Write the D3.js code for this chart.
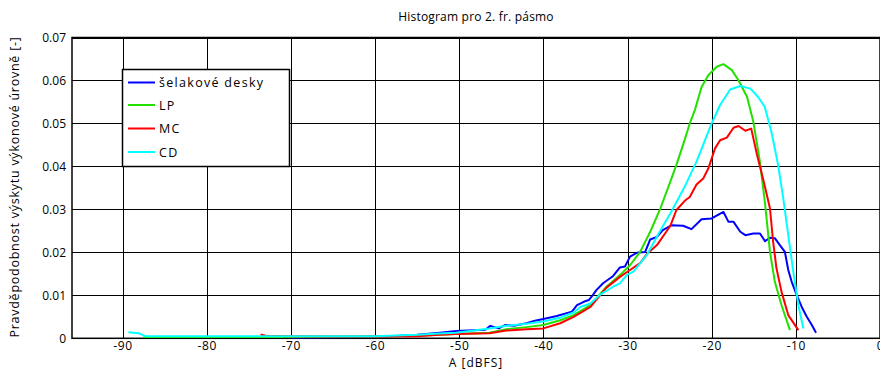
<!DOCTYPE html>
<html><head><meta charset="utf-8">
<script src="https://cdn.jsdelivr.net/npm/d3@7"></script>
<style>body{margin:0;background:#fff}svg{display:block}text{font-family:"Open Sans","DejaVu Sans",sans-serif;}</style>
</head><body><svg id="c" width="880" height="371"></svg>
<script>
const titleText = "Histogram pro 2. fr. pásmo";
const xLabel = "A [dBFS]";
const yLabel = "Pravděpodobnost výskytu výkonové úrovně [-]";
const xTicks = [-90,-80,-70,-60,-50,-40,-30,-20,-10,0];
const yTicks = [0,0.01,0.02,0.03,0.04,0.05,0.06,0.07];
const seriesNames = ["šelakové desky","LP","MC","CD"];
const seriesColors = ["#0000ff","#22e000","#ff0000","#00ffff"];

const shellacDb = [-70,-62,-58,-55,-52.3,-50.3,-48.3,-46.9,-46.3,-45.3,-44.5,-43.5,-42.0,-41.0,-40.0,-38.4,-36.6,-36.0,-35.2,-34.6,-34.1,-33.7,-32.9,-31.7,-30.9,-30.3,-29.7,-28.9,-27.9,-27.3,-26.5,-25.8,-24.8,-23.4,-22.4,-21.2,-20.0,-18.6,-18.0,-17.4,-16.6,-16.0,-15.05,-14.26,-13.66,-13.07,-12.5,-11.9,-11.3,-10.9,-10.5,-9.9,-9.3,-8.7,-8.1,-7.6];
const shellacVal = [0.0002,0.0003,0.0005,0.0008,0.0013,0.0017,0.0019,0.0020,0.0029,0.0023,0.0031,0.0029,0.0035,0.0041,0.0045,0.0052,0.0062,0.0077,0.0085,0.0089,0.0101,0.0112,0.0128,0.0145,0.0165,0.0167,0.0190,0.0199,0.0201,0.0230,0.0236,0.0252,0.0263,0.0262,0.0254,0.0277,0.0279,0.0294,0.0271,0.0271,0.0248,0.0240,0.0244,0.0244,0.0226,0.0234,0.0233,0.0217,0.0201,0.0159,0.0132,0.0101,0.0073,0.0050,0.0031,0.0013];

const lpDb = [-87.5,-80,-70,-60,-55,-50.4,-46.4,-44.4,-42,-40,-38,-36.4,-34.4,-32.5,-30.9,-29.7,-28.5,-27.3,-26.1,-25.0,-24.2,-23.4,-22.6,-22.0,-21.2,-20.4,-19.4,-18.6,-17.6,-16.8,-15.8,-15.05,-14.26,-13.66,-13.07,-12.5,-11.7,-10.7];
const lpVal = [0.0003,0.0003,0.0003,0.0004,0.0006,0.0010,0.0013,0.0021,0.0026,0.0031,0.0042,0.0054,0.0077,0.0120,0.0147,0.0170,0.0201,0.0248,0.0302,0.0360,0.0403,0.0450,0.0500,0.0531,0.0585,0.0612,0.0632,0.0638,0.0624,0.0600,0.0562,0.0504,0.0410,0.0314,0.0201,0.0132,0.0077,0.0019];

const mcDb = [-73.6,-73,-70,-65,-60,-55,-52.4,-50.4,-46.4,-44.4,-42,-40,-38,-36.4,-34.4,-32.5,-30.9,-29.7,-28.5,-27.7,-26.5,-25.5,-24.9,-24.2,-23.2,-22.6,-21.8,-21.0,-20.4,-19.6,-19.0,-18.2,-17.4,-16.8,-16.0,-15.3,-14.6,-13.8,-13.07,-12.7,-12.3,-11.7,-10.9,-9.7];
const mcVal = [0.0009,0.0006,0.0005,0.0004,0.0004,0.0005,0.0008,0.0010,0.0012,0.0018,0.0021,0.0023,0.0035,0.0050,0.0073,0.0118,0.0143,0.0159,0.0175,0.0196,0.0217,0.0245,0.0262,0.0298,0.0320,0.0329,0.0358,0.0372,0.0395,0.0442,0.0461,0.0467,0.0490,0.0494,0.0483,0.0488,0.0426,0.0364,0.0302,0.0225,0.0163,0.0108,0.0054,0.0019];

const cdDb = [-89.3,-88.1,-87.3,-85,-80,-75,-70,-65,-60,-55,-52.4,-50.4,-46.4,-44.4,-42,-40,-38,-36.4,-35.6,-34.4,-33.3,-31.7,-30.9,-30.1,-29.3,-27.7,-26.3,-24.9,-23.3,-21.8,-20.0,-19.0,-17.8,-16.6,-15.4,-14.5,-13.7,-12.9,-12.1,-11.5,-10.9,-10.3,-9.7,-9.1];
const cdVal = [0.0014,0.0012,0.0005,0.0005,0.0005,0.0005,0.0005,0.0005,0.0005,0.0008,0.0011,0.0013,0.0023,0.0029,0.0034,0.0039,0.0048,0.0060,0.0073,0.0081,0.0101,0.0120,0.0128,0.0147,0.0155,0.0194,0.0244,0.0291,0.0349,0.0411,0.0500,0.0543,0.0579,0.0587,0.0581,0.0562,0.0539,0.0480,0.0403,0.0326,0.0240,0.0155,0.0077,0.0023];

const series = [
  {name: seriesNames[0], color: seriesColors[0], x: shellacDb, y: shellacVal},
  {name: seriesNames[1], color: seriesColors[1], x: lpDb, y: lpVal},
  {name: seriesNames[2], color: seriesColors[2], x: mcDb, y: mcVal},
  {name: seriesNames[3], color: seriesColors[3], x: cdDb, y: cdVal}
];

const L = 72, R = 880, T = 37.5, B = 338.3;
const svg = d3.select("#c");
const x = d3.scaleLinear().domain([-96, 0]).range([L, R]);
const y = d3.scaleLinear().domain([0, 0.07]).range([B, T]);

// grid
const g = svg.append("g");
g.selectAll(".gx").data(xTicks).join("line")
  .attr("x1", d => Math.round(x(d)) + 0.5).attr("x2", d => Math.round(x(d)) + 0.5)
  .attr("y1", T).attr("y2", B).attr("stroke", "#000").attr("stroke-width", 1);
g.selectAll(".gy").data(yTicks).join("line")
  .attr("y1", d => Math.round(y(d)) + 0.5).attr("y2", d => Math.round(y(d)) + 0.5)
  .attr("x1", L).attr("x2", R).attr("stroke", "#000").attr("stroke-width", 1);

// axes
const xAxis = d3.axisBottom(x).tickValues(xTicks).tickSize(0).tickPadding(3).tickFormat(d => String(d));
const yAxis = d3.axisLeft(y).tickValues(yTicks).tickSize(0).tickPadding(6).tickFormat(d => d === 0 ? "0" : d3.format(".2f")(d));
const gx = svg.append("g").attr("transform", `translate(0,${B})`).call(xAxis);
const gy = svg.append("g").attr("transform", `translate(${L},0)`).call(yAxis);
[gx, gy].forEach(a => { a.select(".domain").remove(); a.selectAll("text").attr("font-size", 12).attr("fill", "#000").attr("font-family", "'Open Sans', sans-serif"); });
gx.selectAll("text").attr("letter-spacing", "0.6px");

// box
svg.append("rect").attr("x", L).attr("y", T).attr("width", R - L).attr("height", B - T)
  .attr("fill", "none").attr("stroke", "#000").attr("stroke-width", 1.5);

// lines
const line = d3.line().x(d => x(d[0])).y(d => y(d[1]));
svg.append("g").selectAll("path").data(series).join("path")
  .attr("d", s => line(s.x.map((v, i) => [v, s.y[i]])))
  .attr("fill", "none").attr("stroke", s => s.color).attr("stroke-width", 2)
  .attr("stroke-linejoin", "round");

// legend
const lg = svg.append("g");
lg.append("rect").attr("x", 122.5).attr("y", 69.5).attr("width", 167).attr("height", 97)
  .attr("fill", "#fff").attr("stroke", "#000").attr("stroke-width", 1.5);
const ly = [82.5, 105, 128.5, 152];
series.forEach((s, i) => {
  lg.append("line").attr("x1", 128).attr("x2", 155).attr("y1", ly[i]).attr("y2", ly[i])
    .attr("stroke", s.color).attr("stroke-width", 2);
  lg.append("text").attr("x", 159).attr("y", ly[i] + 4.5).attr("font-size", 12.5)
    .attr("letter-spacing", "1.3px").text(s.name);
});

// labels
svg.append("text").attr("x", 476).attr("y", 21).attr("text-anchor", "middle").attr("font-size", 12).attr("letter-spacing", "0.2px").text(titleText);
svg.append("text").attr("x", 476).attr("y", 366.5).attr("text-anchor", "middle").attr("font-size", 12).attr("letter-spacing", "1px").text(xLabel);
svg.append("text").attr("transform", "translate(19,187) rotate(-90)").attr("text-anchor", "middle").attr("font-size", 12.5).attr("letter-spacing", "0.75px").text(yLabel);
</script></body></html>
